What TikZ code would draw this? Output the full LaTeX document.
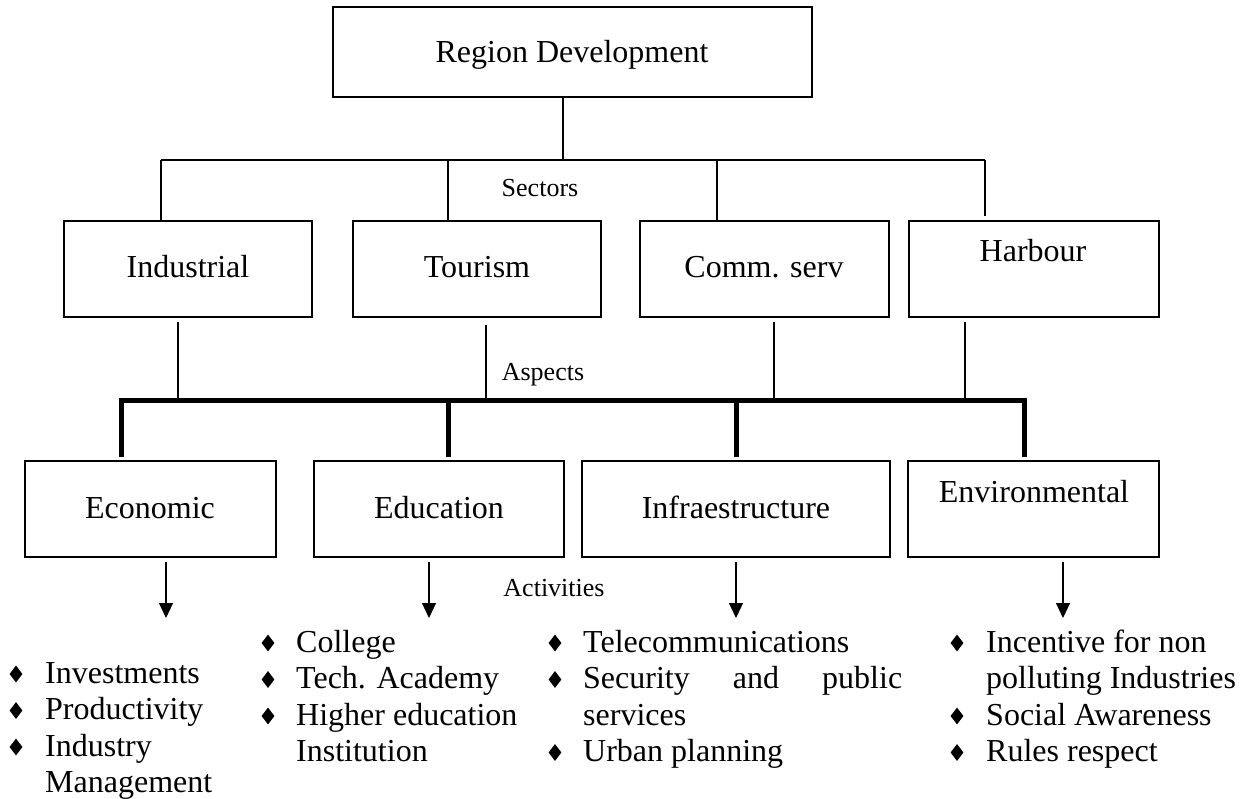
\documentclass[tikz,border=0pt]{standalone}
\usepackage{fontspec}
\setmainfont{Liberation Serif}
\usetikzlibrary{arrows.meta,shapes.geometric}
\begin{document}
\begin{tikzpicture}[x=1pt,y=-1pt,
  box/.style={draw,line width=1.6pt,inner sep=0pt},
  big/.style={font=\fontsize{32}{36}\selectfont},
  small/.style={font=\fontsize{26}{30}\selectfont},
  conn/.style={line width=1.2pt},
  bus/.style={line width=5pt,line join=miter},
  arr/.style={line width=1.2pt,-{Triangle[width=14pt,length=15pt]}},
  bul/.style={diamond,fill=black,inner sep=0pt,minimum width=13pt,minimum height=17pt},
  txt/.style={big,anchor=base west,inner sep=0pt},
  ctxt/.style={big,anchor=base,inner sep=0pt},
  lab/.style={small,anchor=base,inner sep=0pt}
]
\useasboundingbox (0,0) rectangle (1248,799);

% ---- boxes ----
\node[box,minimum width=479pt,minimum height=90pt] (rd) at (572.5,52) {};
\node[box,minimum width=248pt,minimum height=96pt] (ind) at (188,269) {};
\node[box,minimum width=248pt,minimum height=96pt] (tou) at (477,269) {};
\node[box,minimum width=249pt,minimum height=96pt] (com) at (764.5,269) {};
\node[box,minimum width=250pt,minimum height=96pt] (har) at (1034,269) {};
\node[box,minimum width=251pt,minimum height=96pt] (eco) at (150.5,509) {};
\node[box,minimum width=250pt,minimum height=96pt] (edu) at (439,509) {};
\node[box,minimum width=308pt,minimum height=96pt] (inf) at (736,509) {};
\node[box,minimum width=251pt,minimum height=96pt] (env) at (1033.5,509) {};

% ---- box texts ----
\node[ctxt] (rdt) at (572,63) {Region Development};
\node[ctxt] (indt) at (188,278) {Industrial};
\node[ctxt] (tout) at (477,278) {Tourism};
\node[ctxt] (comt) at (764,278) {Comm. serv};
\node[ctxt] (hart) at (1033,262) {Harbour};
\node[ctxt] (ecot) at (150,518) {Economic};
\node[ctxt] (edut) at (439,518) {Education};
\node[ctxt] (inft) at (736,518) {Infraestructure};
\node[ctxt] (envt) at (1034,502) {Environmental};

% ---- labels ----
\node[lab] (sec) at (540,197) {Sectors};
\node[lab] (asp) at (543,381) {Aspects};
\node[lab] (act) at (554,596) {Activities};

% ---- top tree ----
\coordinate (j0) at (563,160);
\coordinate (hL) at (161,160);
\coordinate (t1) at (448,160);
\coordinate (t2) at (717,160);
\coordinate (hR) at (985,160);
\draw[conn] (rd.south -| j0) -- (j0);
\draw[conn] (hL) -- (hR);
\draw[conn] (hL) -- (hL |- ind.north);
\draw[conn] (t1) -- (t1 |- tou.north);
\draw[conn] (t2) -- (t2 |- com.north);
\draw[conn] (hR) -- ([yshift=4pt]hR |- har.north);

% ---- sectors to bus ----
\coordinate (b1) at (178,401);
\coordinate (b2) at (486,401);
\coordinate (b3) at (774,401);
\coordinate (b4) at (965,401);
\draw[conn] ([yshift=-4pt]b1 |- ind.south) -- (b1);
\draw[conn] ([yshift=-7pt]b2 |- tou.south) -- (b2);
\draw[conn] ([yshift=-4pt]b3 |- com.south) -- (b3);
\draw[conn] ([yshift=-4pt]b4 |- har.south) -- (b4);

% ---- bus ----
\coordinate (busL) at (121.5,401);
\coordinate (v2) at (448,401);
\coordinate (v3) at (736,401);
\coordinate (busR) at (1024,401);
\draw[bus] ([yshift=3pt]busL |- eco.north) -- (busL) -- (busR) -- ([yshift=3pt]busR |- env.north);
\draw[bus] (v2) -- ([yshift=3pt]v2 |- edu.north);
\draw[bus] (v3) -- ([yshift=3pt]v3 |- inf.north);

% ---- arrows ----
\coordinate (a1) at (166,618);
\coordinate (a2) at (429,618);
\coordinate (a3) at (736,618);
\coordinate (a4) at (1063,618);
\draw[arr] ([yshift=-4pt]a1 |- eco.south) -- (a1);
\draw[arr] ([yshift=-4pt]a2 |- edu.south) -- (a2);
\draw[arr] ([yshift=-4pt]a3 |- inf.south) -- (a3);
\draw[arr] ([yshift=-4pt]a4 |- env.south) -- (a4);

% ---- Economic list ----
\node[bul] (eb1) at (16,674) {};
\node[bul] (eb2) at (16,710.5) {};
\node[bul] (eb3) at (16,747) {};
\node[txt] (e1) at (45,683) {Investments};
\node[txt] (e2) at (45,719.5) {Productivity};
\node[txt] (e3) at (45,756) {Industry};
\node[txt] (e4) at (45,792.5) {Management};

% ---- Education list ----
\node[bul] (db1) at (268,643) {};
\node[bul] (db2) at (268,679.5) {};
\node[bul] (db3) at (268,716) {};
\node[txt] (d1) at (296,652) {College};
\node[txt] (d2) at (296,688.5) {Tech. Academy};
\node[txt] (d3) at (296,725) {Higher education};
\node[txt] (d4) at (296,761.5) {Institution};

% ---- Infrastructure list ----
\node[bul] (ib1) at (555,643) {};
\node[bul] (ib2) at (555,679.5) {};
\node[bul] (ib3) at (555,752.5) {};
\node[txt] (i1) at (583,652) {Telecommunications};
\node[txt] (i2) at (583,688.5) {\makebox[319pt][s]{Security and public}};
\node[txt] (i3) at (583,725) {services};
\node[txt] (i4) at (583,761.5) {Urban planning};

% ---- Environmental list ----
\node[bul] (vb1) at (957,643) {};
\node[bul] (vb2) at (957,716) {};
\node[bul] (vb3) at (957,752.5) {};
\node[txt] (n1) at (986,652) {Incentive for non};
\node[txt] (n2) at (986,688.5) {polluting Industries};
\node[txt] (n3) at (986,725) {Social Awareness};
\node[txt] (n4) at (986,761.5) {Rules respect};
\end{tikzpicture}
\end{document}
